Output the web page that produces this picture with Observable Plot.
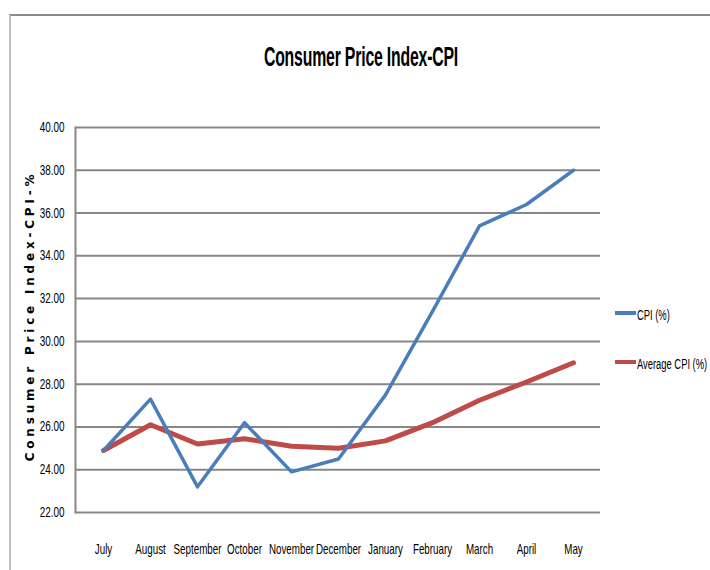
<!DOCTYPE html>
<html>
<head>
<meta charset="utf-8">
<script src="https://cdn.jsdelivr.net/npm/d3@7"></script>
<script src="https://cdn.jsdelivr.net/npm/@observablehq/plot@0.6"></script>
<style>
  body { margin: 0; background: #fff; }
  #wrap { position: relative; width: 710px; height: 570px; overflow: hidden; font-family: "Liberation Sans", Arial, sans-serif; }
  #frame { position: absolute; left: 9px; top: 14px; width: 720px; height: 600px; border-top: 2px solid #8a8a8a; border-left: 2px solid #bdbdbd; box-sizing: border-box; }
  #title { position: absolute; left: 361px; top: 42px; transform: translateX(-50%) scaleX(0.585); white-space: nowrap; font-weight: bold; font-size: 27px; color: #000; letter-spacing: -0.3px; }
  #ylab { position: absolute; left: 30px; top: 316px; transform: translate(-50%, -50%) rotate(-90deg); white-space: nowrap; font-family: "DejaVu Sans", sans-serif; font-weight: bold; font-size: 12px; letter-spacing: 3.8px; color: #000; }
  .leg { position: absolute; left: 615px; height: 16px; display: flex; align-items: center; font-size: 14px; line-height: 16px; color: #000; white-space: nowrap; }
  .leg span { display: inline-block; transform: scaleX(0.67); transform-origin: left center; margin-top: 3px; }
  .sw { width: 21px; height: 4px; margin-right: 1px; }
  #plot { position: absolute; left: 0; top: 0; }
</style>
</head>
<body>
<div id="wrap">
  <div id="frame"></div>
  <div id="plot"></div>
  <div id="title">Consumer Price Index-CPI</div>
  <div id="ylab">Consumer Price Index-CPI-%</div>
  <div class="leg" style="top:305px"><div class="sw" style="background:#4a7ebb"></div><span>CPI (%)</span></div>
  <div class="leg" style="top:354px"><div class="sw" style="background:#be4b48"></div><span>Average CPI (%)</span></div>
</div>
<script>
const months = ["July","August","September","October","November","December","January","February","March","April","May"];
const cpi = [24.9, 27.3, 23.2, 26.2, 23.9, 24.5, 27.5, 31.4, 35.4, 36.4, 38.0];
const avgCpi = [24.9, 26.1, 25.2, 25.45, 25.1, 25.0, 25.35, 26.2, 27.25, 28.1, 29.0];
const yTicks = [22, 24, 26, 28, 30, 32, 34, 36, 38, 40];

const cpiData = months.map((m, i) => ({month: m, value: cpi[i]}));
const avgData = months.map((m, i) => ({month: m, value: avgCpi[i]}));

const ySx = 0.71, xSx = 0.70;
const chart = Plot.plot({
  width: 710,
  height: 570,
  marginLeft: 75,
  marginRight: 110,
  marginTop: 127,
  marginBottom: 58,
  style: { fontFamily: '"Liberation Sans", Arial, sans-serif', fontSize: "14px", background: "transparent", color: "#000" },
  x: { type: "point", domain: months, padding: 0.5 },
  y: { domain: [22, 40] },
  marks: [
    Plot.ruleY(yTicks, { stroke: "#878787", strokeWidth: 2 }),
    Plot.axisY({ ticks: yTicks, tickFormat: d => d.toFixed(2), tickSize: 0, tickPadding: 11, label: null, fill: "#000" }),
    Plot.axisX({ tickSize: 0, tickPadding: 32, label: null, fill: "#000" }),
    Plot.frame({ anchor: "left", stroke: "#878787", strokeWidth: 2 }),
    Plot.line(avgData, { x: "month", y: "value", stroke: "#be4b48", strokeWidth: 5 }),
    Plot.line(cpiData, { x: "month", y: "value", stroke: "#4a7ebb", strokeWidth: 3.5 })
  ]
});
document.getElementById("plot").appendChild(chart);

// condense axis tick labels horizontally around their own anchor point
function condense(sel, s) {
  chart.querySelectorAll(sel).forEach(t => {
    const tr = t.getAttribute("transform") || "";
    const x = +(t.getAttribute("x") || 0);
    const dx = parseFloat(t.getAttribute("dx") || 0);
    const ax = x + dx;
    t.setAttribute("transform", `${tr} translate(${ax},0) scale(${s},1) translate(${-ax},0)`);
  });
}
condense('[aria-label="y-axis tick label"] text', ySx);
condense('[aria-label="x-axis tick label"] text', xSx);
</script>
</body>
</html>
